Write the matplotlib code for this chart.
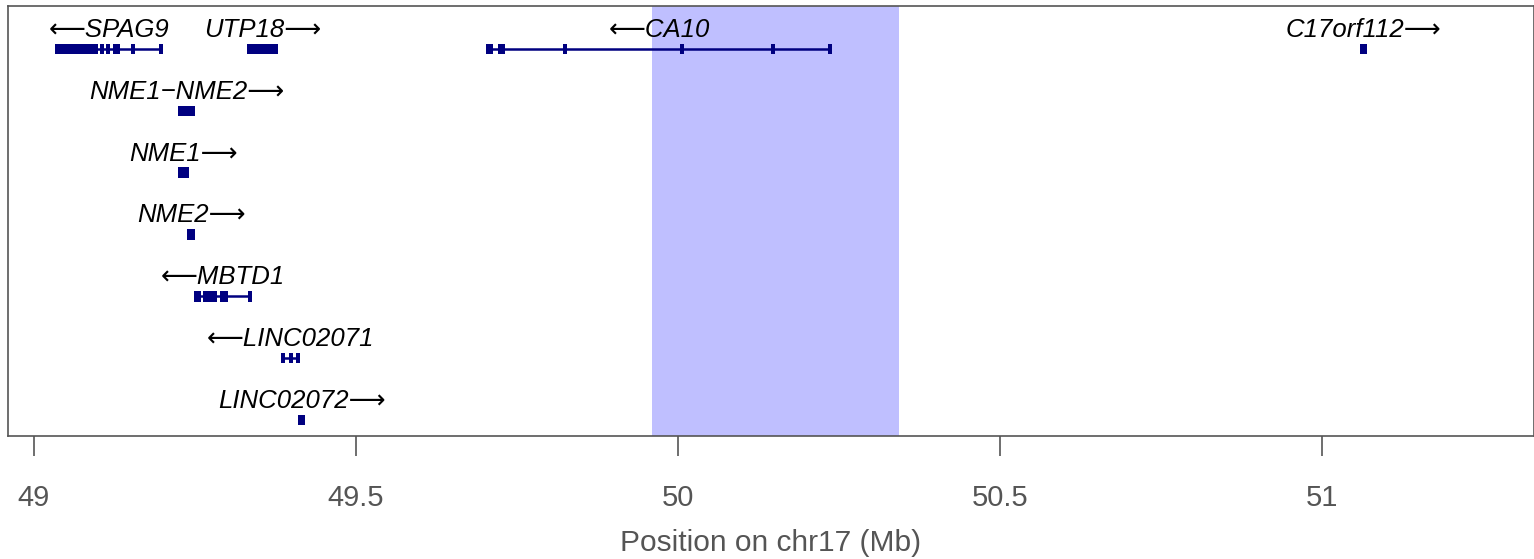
import matplotlib
matplotlib.use('Agg')
import matplotlib.pyplot as plt
from matplotlib.patches import Rectangle

plt.rcParams['font.family'] = ['Liberation Sans', 'DejaVu Sans']

# genes: name, strand, row, exon positions (Mb)
gene_names = ['SPAG9', 'UTP18', 'CA10', 'C17orf112', 'NME1\u2212NME2',
              'NME1', 'NME2', 'MBTD1', 'LINC02071', 'LINC02072']
gene_strands = ['-', '+', '-', '+', '+', '+', '+', '-', '-', '+']
gene_rows = [0, 0, 0, 0, 1, 2, 3, 4, 5, 6]
gene_exons = [
    [49.0357, 49.0404, 49.0466, 49.0512, 49.0559, 49.0606, 49.0652, 49.0699,
     49.0745, 49.0792, 49.0839, 49.0901, 49.0963, 49.1056, 49.1149, 49.1258,
     49.1304, 49.1537, 49.1972],
    [49.3339, 49.3385, 49.3447, 49.3509, 49.3571, 49.3634, 49.3696, 49.3758],
    [49.7050, 49.7096, 49.7236, 49.7283, 49.8245, 50.0062, 50.1475, 50.2360],
    [51.0621, 51.0668],
    [49.2267, 49.2314, 49.2376, 49.2422, 49.2469],
    [49.2267, 49.2329, 49.2376],
    [49.2407, 49.2469],
    [49.2516, 49.2562, 49.2655, 49.2702, 49.2764, 49.2811, 49.2919, 49.2981, 49.3354],
    [49.3866, 49.3991, 49.4099],
    [49.4130, 49.4177],
]

highlight = (49.9596, 50.3432)
xticks = [49, 49.5, 50, 50.5, 51]
xticklabels = ['49', '49.5', '50', '50.5', '51']

fig = plt.figure(figsize=(15.34, 5.59), dpi=100)
ax = fig.add_axes([8 / 1534, 123 / 559, 1526 / 1534, 430 / 559])

ax.axvspan(highlight[0], highlight[1], color=(0.75, 0.75, 1.0), lw=0, zorder=0)

navy = '#000080'
exon_w = 0.005
exon_h = 0.17
for name, strand, row, exons in zip(gene_names, gene_strands, gene_rows, gene_exons):
    start, end = min(exons), max(exons)
    ax.plot([start, end], [row, row], color=navy, lw=1.8, solid_capstyle='butt', zorder=2)
    for e in exons:
        ax.add_patch(Rectangle((e - exon_w / 2, row - exon_h / 2), exon_w, exon_h,
                               facecolor=navy, edgecolor='none', zorder=3))
    label = '\u27f5' + name if strand == '-' else name + '\u27f6'
    ax.text((start + end) / 2, row - 0.195, label, ha='center', va='baseline',
            fontsize=18.5, style='italic', color='black', zorder=4)

ax.set_xlim(48.95963, 51.32919)
ax.set_ylim(6.259, -0.695)
ax.set_yticks([])
ax.set_xticks(xticks)
ax.set_xticklabels(xticklabels)
ax.tick_params(axis='x', direction='out', length=14.5, width=1.2, color='#555555',
               labelcolor='#555555', labelsize=21, pad=20)
for s in ax.spines.values():
    s.set_color('#555555')
    s.set_linewidth(1.2)
ax.set_xlabel('Position on chr17 (Mb)', fontsize=21.5, color='#555555', labelpad=12)

fig.savefig('out.png', dpi=100)
